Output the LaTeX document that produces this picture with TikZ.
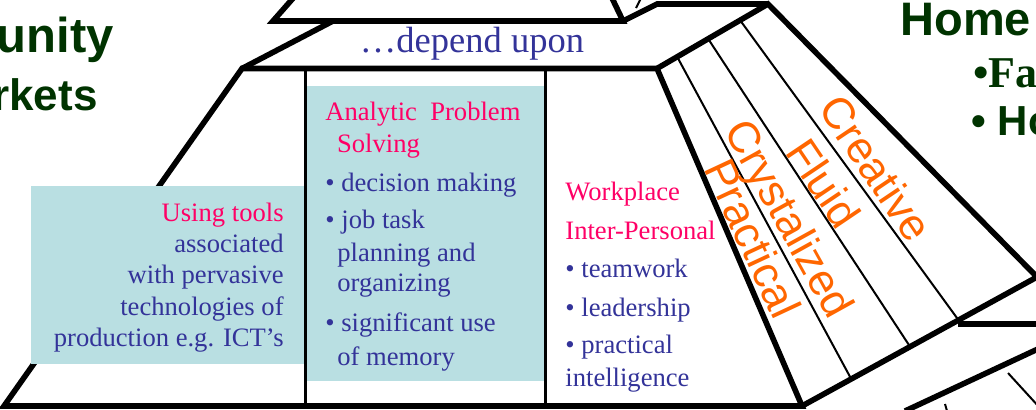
\documentclass[tikz,border=0pt]{standalone}
\usepackage{fontspec}
\setmainfont{Liberation Serif}
\newfontfamily\arialfont{Liberation Sans}

\definecolor{skillblue}{RGB}{51,51,153}
\definecolor{skillpink}{RGB}{255,0,102}
\definecolor{panelcyan}{RGB}{185,223,226}
\definecolor{headgreen}{RGB}{0,51,0}
\definecolor{iqorange}{RGB}{255,102,0}

\tikzset{
  outline/.style = {line width=2.8pt},
  divider/.style = {line width=1.5pt},
  strip/.style = {line width=1pt},
  bodytext/.style = {inner sep=0pt, font=\fontsize{13.3}{16}\selectfont},
  iqlabel/.style = {inner sep=0pt, text=iqorange, text height=15.8pt, text depth=0pt,
                    font=\arialfont\fontsize{22}{26}\selectfont},
  heading/.style = {inner sep=0pt, text=headgreen},
}

\begin{document}
\begin{tikzpicture}[x=0.5pt, y=-0.5pt]
  \useasboundingbox (0,0) rectangle (1036,409);
  \clip (0,0) rectangle (1036,409);

  \def\toplevel{(295,-4) -- (273,21) -- (623,21) -- (611,-4)}
  \def\mainlevel{(242,68.5) -- (657,68.5) -- (802,406) -- (4,406) -- cycle}
  \def\iqpanel{(657,68.5) -- (768,4) -- (1037,277) -- (802,406)}

  % pyramid outlines
  \draw[outline] \toplevel;
  \draw[outline] (623,21) -- (657,4) -- (768,4);
  \draw[strip] (636,8) -- (641,-2);
  \draw[outline] (242,68.5) -- (333,21);
  \draw[outline] \mainlevel;
  \draw[outline] \iqpanel;

  % strips of the intelligence panel
  \draw[strip] (677,56.5) -- (850.9,378.4);
  \draw[strip] (708,38.6) -- (909.8,346.3);
  \draw[strip] (740,20.1) -- (958.3,319.8);

  % pieces of the next level
  \draw[outline] (958,324) -- (1040,324);
  \draw[outline] (905,411) -- (1040,348);
  \draw[strip] (1008,373) -- (1040,408);
  \draw[strip] (945,404) -- (947,411);

  % shaded boxes
  \fill[panelcyan] (31,186) rectangle (305,364);
  \fill[panelcyan] (305,86) rectangle (545,381);
  \draw[divider] (305,68.5) -- (305,406);
  \draw[divider] (545,68.5) -- (545,406);

  \node[anchor=base, inner sep=0pt, text=skillblue, font=\fontsize{18.25}{22}\selectfont]
    (depend) at (472,52) {…depend upon};

  % tools box
  \node[bodytext, text=skillpink, anchor=base east] (tools) at (284,221.5) {Using tools};
  \foreach \y/\txt [count=\i] in {252.7/associated, 283.5/with pervasive,
      315/technologies of, 346.5/production e.g. ICT’s}
    \node[bodytext, text=skillblue, anchor=base east] (tools\i) at (284,\y) {\txt};

  % problem solving box
  \node[bodytext, text=skillpink, anchor=base west] (analytic) at (325,120.7) {Analytic\ \ Problem};
  \node[bodytext, text=skillpink, anchor=base west] (solving) at (336.7,152.7) {Solving};
  \foreach \x/\y/\txt [count=\i] in {325/191.7/• decision making, 325/228/• job task,
      337/261.7/planning and, 337/291.7/organizing, 325/331.7/• significant use,
      337/365/of memory}
    \node[bodytext, text=skillblue, anchor=base west] (solve\i) at (\x,\y) {\txt};

  % workplace column
  \node[bodytext, text=skillpink, anchor=base west] (workplace) at (565,200) {Workplace};
  \node[bodytext, text=skillpink, anchor=base west] (interpersonal) at (565,239.3) {Inter-Personal};
  \foreach \y/\txt [count=\i] in {277.3/• teamwork, 316/• leadership,
      353.3/• practical, 386.7/intelligence}
    \node[bodytext, text=skillblue, anchor=base west] (work\i) at (565,\y) {\txt};

  % intelligences
  \node[iqlabel, rotate=-65] (practical) at (753,238) {Practical};
  \node[iqlabel, rotate=-61] (crystalized) at (790,218) {Crystalized};
  \node[iqlabel, rotate=-56] (fluid) at (824,183) {Fluid};
  \node[iqlabel, rotate=-56] (creative) at (876,168) {Creative};

  % headings cut by the frame
  \node[heading, anchor=base east, font=\arialfont\bfseries\fontsize{24.5}{28}\selectfont]
    (community) at (114,52) {unity};
  \node[heading, anchor=base east, font=\arialfont\bfseries\fontsize{22}{26}\selectfont]
    (markets) at (98,110) {rkets};
  \node[heading, anchor=base west, font=\arialfont\bfseries\fontsize{23.5}{28}\selectfont]
    (home) at (900,35) {Home};
  \node[heading, anchor=base west, font=\bfseries\fontsize{22}{26}\selectfont]
    (family) at (973,87) {•Fa};
  \node[heading, anchor=base west, font=\arialfont\bfseries\fontsize{21}{26}\selectfont]
    (household) at (971,135) {• Ho};
\end{tikzpicture}
\end{document}
